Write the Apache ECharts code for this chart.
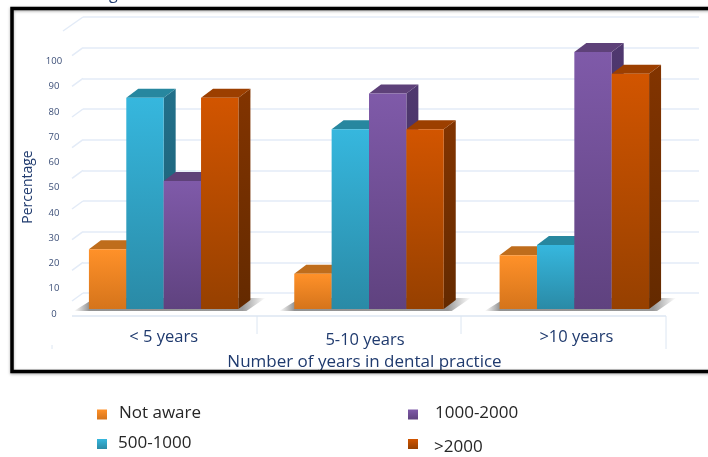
<!DOCTYPE html>
<html>
<head>
<meta charset="utf-8">
<style>html,body{margin:0;padding:0;background:#fff}#chart{width:708px;height:457px}</style>
<script src="https://cdn.jsdelivr.net/npm/echarts@6/dist/echarts.min.js"></script>
</head>
<body>
<div id="chart"></div>
<script>
// Awareness by years in dental practice
const categories = ['< 5 years', '5-10 years', '>10 years'];
const notAware = [25.6, 15.9, 23.2];
const from500to1000 = [85.6, 73.1, 27.3];
const from1000to2000 = [52.6, 87.2, 103.7];
const over2000 = [85.6, 73.1, 95.1];
const wallLevels = [0, 1, 2, 3, 4, 5, 6, 7, 8, 9];

const FONT = '"Open Sans", sans-serif';
const NAVY = '#1f3a6e';
const DEPTH_X = 12, DEPTH_Y = 9;   // oblique projection of the bars
const FLOOR_LIFT = 5;              // bars stand slightly above the zero line
const BAR_SHARE = 0.182;           // bar width as a share of the category band

const vGrad = (a, b) => ({ type: 'linear', x: 0, y: 0, x2: 0, y2: 1,
  colorStops: [{ offset: 0, color: a }, { offset: 1, color: b }] });

const seriesDefs = [
  { name: 'Not aware', values: notAware, front: ['#ff9129', '#d5741b'], top: '#bf6d1c', side: ['#a85f16', '#8a4c10'] },
  { name: '500-1000', values: from500to1000, front: ['#36b7de', '#2a8aa6'], top: '#27879f', side: ['#22708a', '#1c5d72'] },
  { name: '1000-2000', values: from1000to2000, front: ['#7f5aa9', '#5f427f'], top: '#5e4179', side: ['#4f386f', '#44305f'] },
  { name: '>2000', values: over2000, front: ['#d25500', '#964000'], top: '#9c3f00', side: ['#823400', '#642a00'] }
];

function barRenderer(slot, def) {
  return function (params, api) {
    const band = api.size([1, 0])[0];
    const w = band * BAR_SHARE;
    const anchor = api.coord([api.value(0), api.value(1)]);
    const zero = api.coord([api.value(0), 0]);
    const x0 = anchor[0] + (slot - 2) * w;
    const x1 = x0 + w;
    const yTop = anchor[1];
    const yBase = zero[1] - FLOOR_LIFT;
    return {
      type: 'group',
      children: [
        { type: 'polygon',
          shape: { points: [[x1, yTop], [x1 + DEPTH_X, yTop - DEPTH_Y], [x1 + DEPTH_X, yBase - DEPTH_Y], [x1, yBase]] },
          style: { fill: vGrad(def.side[0], def.side[1]) } },
        { type: 'polygon',
          shape: { points: [[x0, yTop], [x0 + DEPTH_X, yTop - DEPTH_Y], [x1 + DEPTH_X, yTop - DEPTH_Y], [x1, yTop]] },
          style: { fill: def.top } },
        { type: 'rect',
          shape: { x: x0, y: yTop, width: w, height: yBase - yTop },
          style: { fill: vGrad(def.front[0], def.front[1]) } }
      ]
    };
  };
}

// Soft shadow that each bar cluster throws on the floor
function shadowRenderer(params, api) {
  const band = api.size([1, 0])[0];
  const w = band * BAR_SHARE;
  const c = api.coord([api.value(0), 0]);
  const left = c[0] - 2 * w, right = c[0] + 2 * w;
  const base = c[1] - FLOOR_LIFT;
  return {
    type: 'polygon',
    shape: { points: [[left - 15, base + 2], [left + 6, base - 11], [right + 27, base - 11], [right + 8, base + 2]] },
    style: { fill: { type: 'linear', x: 0, y: 0, x2: 1, y2: 0, colorStops: [
      { offset: 0, color: 'rgba(120,120,120,0)' },
      { offset: 0.08, color: 'rgba(110,110,110,0.75)' },
      { offset: 0.88, color: 'rgba(110,110,110,0.7)' },
      { offset: 1, color: 'rgba(120,120,120,0)' }] } }
  };
}

// Short receding strokes joining the back wall gridlines to the side wall
function wallStubRenderer(params, api) {
  const level = api.value(1);
  const p = api.coord([0, level]);
  const long = level === 9;
  return {
    type: 'line',
    shape: { x1: p[0], y1: p[1], x2: p[0] - (long ? 20 : 11), y2: p[1] + (long ? 14 : 8) },
    style: { stroke: '#e3ebf7', lineWidth: 1.5 }
  };
}

// One legend per entry: the four keys sit at their own offsets
const legendAt = (name, left, top, textPad) => ({
  data: [name], left, top, orient: 'horizontal', selectedMode: false,
  icon: 'rect', itemWidth: 10, itemHeight: 10,
  formatter: n => `{t|${n}}`,
  textStyle: { rich: { t: { fontFamily: FONT, fontSize: 17, color: '#262626', padding: textPad } } }
});

const chart = echarts.init(document.getElementById('chart'), null, { renderer: 'canvas' });
chart.setOption({
  animation: false,
  backgroundColor: '#fff',
  grid: [
    { left: 61, top: 36, width: 616, height: 278 },
    { left: 83, top: 17, width: 616, height: 276 }
  ],
  xAxis: [
    { type: 'category', gridIndex: 0, data: categories,
      axisLine: { show: false }, axisTick: { show: false },
      axisLabel: { margin: 15, fontFamily: FONT, fontSize: 16.5, color: NAVY,
        formatter: (v, i) => `{c${i}|${v}}`,
        rich: {
          c0: { fontFamily: FONT, fontSize: 16.5, color: NAVY },
          c1: { fontFamily: FONT, fontSize: 16.5, color: NAVY, padding: [3, 8, 0, 0] },
          c2: { fontFamily: FONT, fontSize: 16.5, color: NAVY, padding: [0, 0, 0, 4] }
        } },
      name: 'Number of years in dental practice', nameLocation: 'middle', nameGap: 39,
      nameTextStyle: { fontFamily: FONT, fontSize: 17, color: NAVY, padding: [0, 9, 0, 0] } },
    { type: 'value', gridIndex: 1, min: 0, max: 1, show: false }
  ],
  yAxis: [
    { type: 'value', gridIndex: 0, min: 0, max: 110, interval: 10,
      axisLine: { show: false }, axisTick: { show: false }, splitLine: { show: false },
      axisLabel: { margin: 7, align: 'center', fontFamily: FONT, fontSize: 9.5, color: '#3c4f78',
        formatter: v => (v > 100 ? '' : String(v)) },
      name: 'Percentage', nameLocation: 'middle', nameGap: 26,
      nameTextStyle: { fontFamily: FONT, fontSize: 14, color: NAVY, padding: [0, 24, 0, 0] } },
    { type: 'value', gridIndex: 1, min: 0, max: 9, interval: 1,
      axisLine: { show: false }, axisTick: { show: false }, axisLabel: { show: false },
      splitLine: { show: true, lineStyle: { color: '#e3ebf7', width: 1.5 } } }
  ],
  legend: [
    legendAt('Not aware', 92, 400, [0, 0, 2, 7]),
    legendAt('500-1000', 92, 430, [0, 0, 1, 6]),
    legendAt('1000-2000', 403, 400, [0, 0, 2, 12]),
    legendAt('>2000', 403, 434, [7, 0, 0, 11])
  ],
  series: [
    { type: 'custom', name: 'wall', xAxisIndex: 1, yAxisIndex: 1, silent: true, clip: false,
      data: wallLevels.map(v => [0, v]), renderItem: wallStubRenderer, z: 1 },
    { type: 'custom', name: 'shadow', xAxisIndex: 0, yAxisIndex: 0, silent: true, clip: false,
      data: categories.map((c, i) => [i, 0]), renderItem: shadowRenderer, z: 2 }
  ].concat(seriesDefs.map((def, slot) => ({
    type: 'custom', name: def.name, xAxisIndex: 0, yAxisIndex: 0, clip: false, z: 3 + slot,
    itemStyle: { color: vGrad(def.front[0], def.front[1]) },
    encode: { x: 0, y: 1 },
    data: def.values.map((v, i) => [i, v]),
    renderItem: barRenderer(slot, def)
  }))),
  graphic: [
    // floor edge and category separators
    { type: 'line', z: 1, shape: { x1: 72, y1: 316, x2: 666, y2: 316 }, style: { stroke: '#dce6f2', lineWidth: 1.5 } },
    { type: 'line', z: 1, shape: { x1: 257, y1: 316, x2: 257, y2: 334 }, style: { stroke: '#dce6f2', lineWidth: 1 } },
    { type: 'line', z: 1, shape: { x1: 461, y1: 316, x2: 461, y2: 334 }, style: { stroke: '#dce6f2', lineWidth: 1 } },
    { type: 'line', z: 1, shape: { x1: 666, y1: 316, x2: 666, y2: 349 }, style: { stroke: '#dce6f2', lineWidth: 1 } },
    { type: 'line', z: 1, shape: { x1: 52, y1: 345, x2: 52, y2: 349 }, style: { stroke: '#dce6f2', lineWidth: 1 } },
    // panel outline, running off the right-hand edge
    { type: 'rect', z: 20, shape: { x: 12, y: 8.5, width: 710, height: 363 },
      style: { fill: 'transparent', stroke: '#000', lineWidth: 3.5,
        shadowBlur: 3, shadowColor: 'rgba(0,0,0,0.35)', shadowOffsetY: 1 } },
    // descender of the heading above the panel
    { type: 'text', z: 21, left: 109, top: -14,
      style: { text: 'g', fontFamily: FONT, fontSize: 16, fill: NAVY } }
  ]
});
</script>
</body>
</html>
